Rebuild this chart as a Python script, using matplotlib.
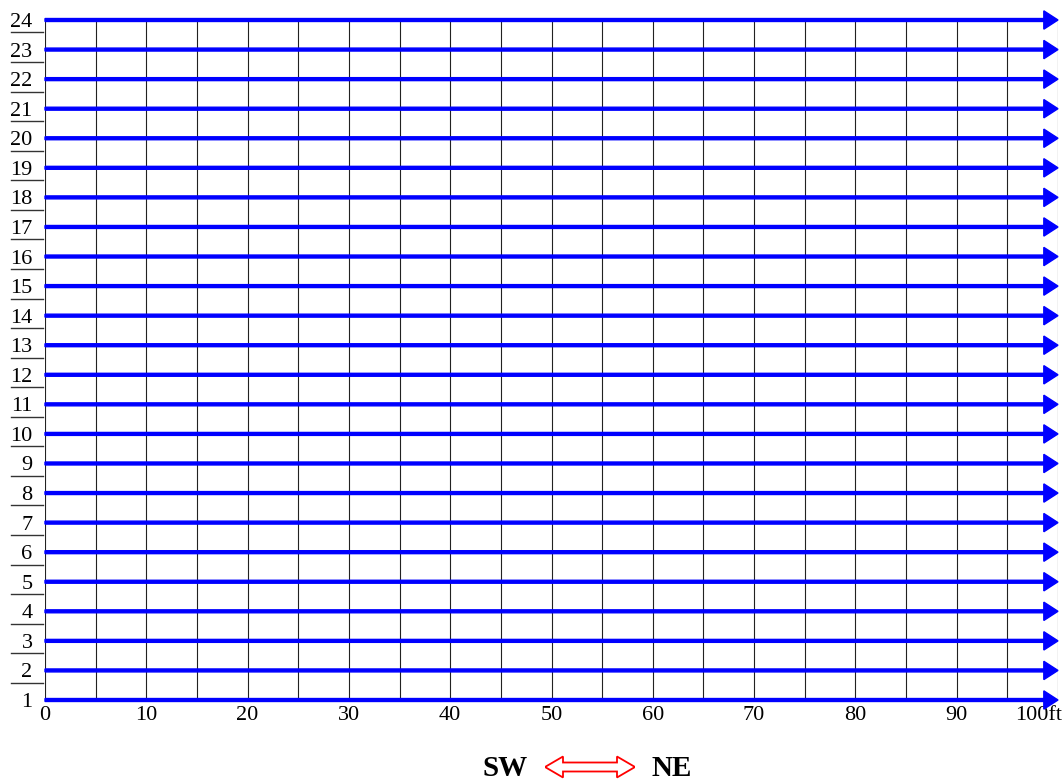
import matplotlib.pyplot as plt
from matplotlib.patches import Polygon
from matplotlib.transforms import ScaledTranslation

# Row numbers (one blue arrow per row) and distance ticks along the line
rows = list(range(1, 25))
distance_ticks = [0, 10, 20, 30, 40, 50, 60, 70, 80, 90, 100]
distance_labels = ["0", "10", "20", "30", "40", "50", "60", "70", "80", "90", "100ft"]
grid_x = list(range(0, 101, 5))
line_start = 0
line_end = 100

plt.rcParams['font.family'] = ['Liberation Serif', 'DejaVu Serif']

fig = plt.figure(figsize=(10.63, 7.82), dpi=100)
# Plot box: x 0 -> 45px, 100 -> 1058px; row 24 -> 20px, row 1 -> 700px
ax = fig.add_axes([45 / 1063, 82 / 782, (1058 - 45) / 1063, 680 / 782])
ax.set_xlim(0, 100)
ax.set_ylim(1, 24)
for s in ax.spines.values():
    s.set_visible(False)

# Vertical grid lines every 5 ft
ax.vlines(grid_x, 1, 24, colors='#222222', linewidth=0.8, zorder=1)

# Blue arrows, one per row
for r in rows:
    ax.arrow(line_start, r, line_end - line_start, 0, width=0.1,
             head_width=0.62, head_length=1.4, length_includes_head=True,
             color='#0000ff', clip_on=False, zorder=3)

# x tick labels
ax.set_xticks(distance_ticks)
ax.set_xticklabels(distance_labels, fontsize=16)
ax.tick_params(axis='x', length=0, pad=4)
last = ax.get_xticklabels()[-1]
last.set_horizontalalignment('right')
last.set_transform(last.get_transform() + ScaledTranslation(0.045, 0, fig.dpi_scale_trans))

# y tick labels (row numbers) and small separators between them
ax.set_yticks(rows)
ax.set_yticklabels([str(r) for r in rows], fontsize=16)
ax.tick_params(axis='y', length=0, pad=9)
for r in rows[1:]:
    ax.plot([-3.4, -0.2], [r - 0.42, r - 0.42], color='#333333',
            linewidth=1.0, clip_on=False)

# Direction legend under the chart
fig.text(505 / 1063, 6 / 782, "SW", fontsize=21, fontweight='bold',
         ha='center', va='baseline')
fig.text(672 / 1063, 6 / 782, "NE", fontsize=21, fontweight='bold',
         ha='center', va='baseline')

# hollow double arrow, sized in pixels of a small helper axes
ax_arrow = fig.add_axes([545 / 1063, 0.0, 90 / 1063, 40 / 782])
ax_arrow.set_xlim(0, 90)
ax_arrow.set_ylim(0, 40)
ax_arrow.axis('off')
cy, hl, hh, sh = 15, 18, 10.5, 4.5
darrow = Polygon([(0, cy), (hl, cy + hh), (hl, cy + sh), (90 - hl, cy + sh),
                  (90 - hl, cy + hh), (90, cy), (90 - hl, cy - hh),
                  (90 - hl, cy - sh), (hl, cy - sh), (hl, cy - hh)],
                 closed=True, fc='white', ec='red', lw=1.3)
ax_arrow.add_patch(darrow)

fig.savefig("out.png", dpi=100)
